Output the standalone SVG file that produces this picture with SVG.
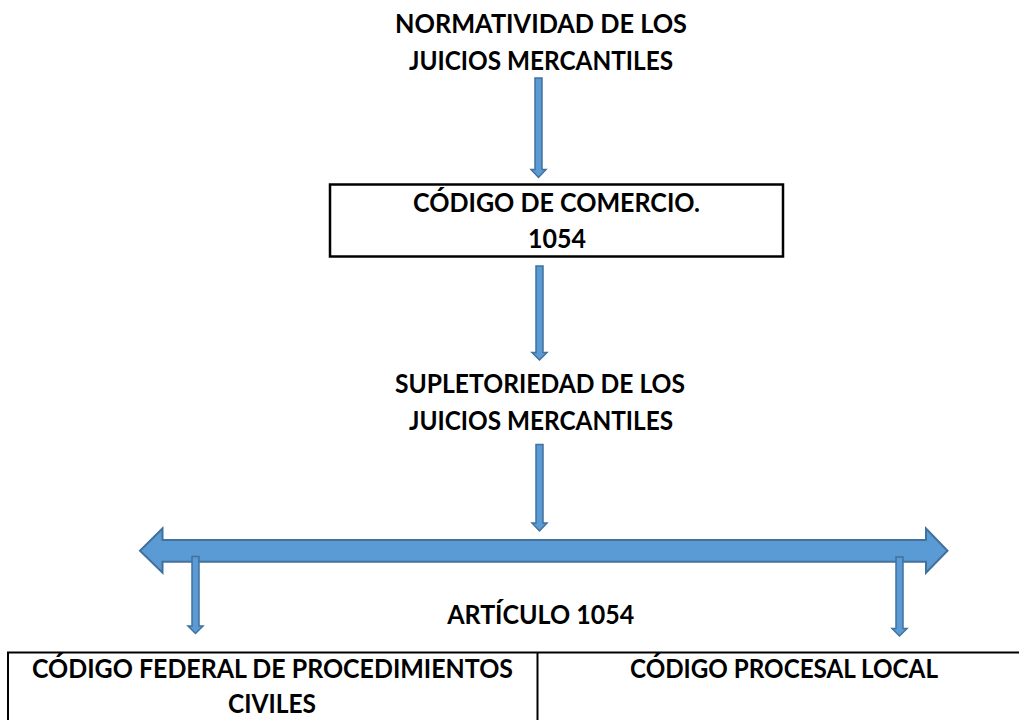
<svg xmlns="http://www.w3.org/2000/svg" width="1019" height="720" viewBox="0 0 1019 720">
<style>
.t{font-family:Lato,"Open Sans","Liberation Sans",sans-serif;font-weight:bold;font-size:27px;fill:#000;text-anchor:middle}
.arr{fill:#5B9BD5;stroke:#41719C;stroke-width:1.5;stroke-linejoin:miter}
.big{fill:#5B9BD5;stroke:#41719C;stroke-width:2;stroke-linejoin:miter}
.box{fill:#fff;stroke:#000;stroke-width:2.5}
.ln{stroke:#000;stroke-width:2;fill:none}
</style>
<rect width="1019" height="720" fill="#fff"/>
<g id="connectors">
<path class="big" d="M140,550.7 L162.5,528.5 V540 H926 V528.5 L947.5,550.7 L926,572.7 V561.7 H162.5 V572.7 Z"/>
<path class="arr" d="M535,78 H542 V169.5 H546 L538.5,177.5 L531,169.5 H535 Z"/>
<path class="arr" d="M536,266 H543 V352.5 H547 L539.5,360 L532,352.5 H536 Z"/>
<path class="arr" d="M536,444.5 H543 V523 H547 L539.5,531 L532,523 H536 Z"/>
<path class="arr" d="M192,556.5 H199 V626 H203 L195.5,633.5 L188,626 H192 Z"/>
<path class="arr" d="M896,557 H903 V628.5 H907 L899.5,636 L892,628.5 H896 Z"/>
</g>
<g id="normatividad">
<text class="t" x="541" y="33" textLength="292" lengthAdjust="spacingAndGlyphs">NORMATIVIDAD DE LOS</text>
<text class="t" x="541" y="70" textLength="264" lengthAdjust="spacingAndGlyphs">JUICIOS MERCANTILES</text>
</g>
<g id="codigo-comercio">
<rect class="box" x="330" y="184.5" width="453" height="72"/>
<text class="t" x="556.5" y="211.5" textLength="287" lengthAdjust="spacingAndGlyphs">CÓDIGO DE COMERCIO.</text>
<text class="t" x="557" y="247.5" textLength="58" lengthAdjust="spacingAndGlyphs">1054</text>
</g>
<g id="supletoriedad">
<text class="t" x="540" y="393.3" textLength="290" lengthAdjust="spacingAndGlyphs">SUPLETORIEDAD DE LOS</text>
<text class="t" x="541" y="430" textLength="264" lengthAdjust="spacingAndGlyphs">JUICIOS MERCANTILES</text>
</g>
<g id="articulo">
<text class="t" x="540.7" y="624.3" textLength="187" lengthAdjust="spacingAndGlyphs">ARTÍCULO 1054</text>
</g>
<g id="tabla">
<path class="ln" d="M8,740 V652.5 H1031 M537.5,652.5 V740"/>
</g>
<g id="codigo-federal">
<text class="t" x="272.5" y="678.3" textLength="481" lengthAdjust="spacingAndGlyphs">CÓDIGO FEDERAL DE PROCEDIMIENTOS</text>
<text class="t" x="272" y="713.3" textLength="88" lengthAdjust="spacingAndGlyphs">CIVILES</text>
</g>
<g id="codigo-procesal">
<text class="t" x="784" y="678" textLength="308" lengthAdjust="spacingAndGlyphs">CÓDIGO PROCESAL LOCAL</text>
</g>
</svg>
